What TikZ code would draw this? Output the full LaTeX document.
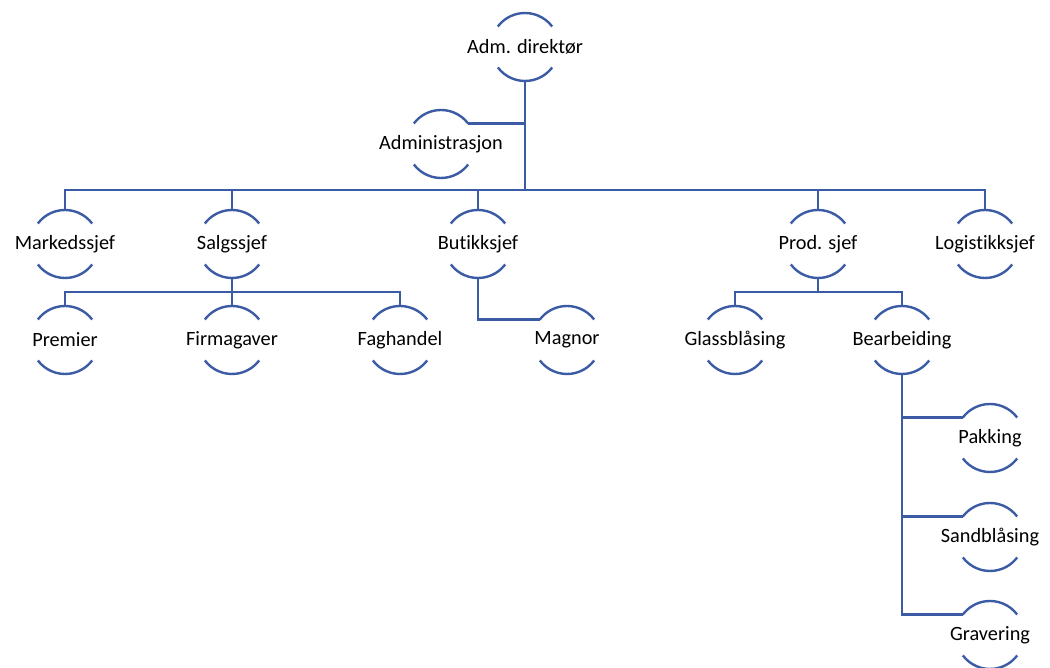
\documentclass[tikz,border=0pt]{standalone}
\usepackage{fontspec}
\setmainfont{Carlito}[Ligatures=NoCommon]
\usetikzlibrary{calc}
\definecolor{orgblue}{RGB}{59,91,165}

\begin{document}
\begin{tikzpicture}[x=1pt,y=1pt,
  unit/.style={minimum height=68pt,minimum width=68pt,inner sep=0pt,
               outer sep=0pt,font=\fontsize{20.3}{22}\selectfont,text=black},
  arcs/.style={line width=2.4pt,color=orgblue},
  link/.style={line width=2.6pt,color=orgblue}]
\useasboundingbox (0,0) rectangle (1050,668);
% Top
\node[unit](adm) at (525,621) {Adm. direktør};
\node[unit](admin) at (441,524) {Administrasjon};
% Level 1
\node[unit](mark) at (65,424)  {Markedssjef};
\node[unit](salg) at (232,424) {Salgssjef};
\node[unit](but)  at (478,424) {Butikksjef};
\node[unit](prod) at (818,424) {Prod. sjef};
\node[unit](log)  at (985,424) {Logistikksjef};
% Level 2
\node[unit](prem) at (65,328)  {Premier};
\node[unit](firm) at (232,328) {Firmagaver};
\node[unit](fag)  at (400,328) {Faghandel};
\node[unit](mag)  at (567,328) {Magnor};
\node[unit](glas) at (735,328) {Glassblåsing};
\node[unit](bear) at (902,328) {Bearbeiding};
% Under Bearbeiding
\node[unit](pak)  at (990,230) {Pakking};
\node[unit](sand) at (990,131) {Sandblåsing};
\node[unit](grav) at (990,33)  {Gravering};
% Arcs round each unit
\foreach \n in {adm,admin,mark,salg,but,prod,log,prem,firm,fag,mag,glas,bear,pak,sand,grav}
  \draw[arcs] (\n.center) ++(37:34pt) arc[start angle=37,end angle=143,radius=34pt]
              (\n.center) ++(217:34pt) arc[start angle=217,end angle=323,radius=34pt];
% Connectors
\coordinate (bus1) at (525,478);
\coordinate (bus2) at (232,376);
\coordinate (bus3) at (818,376);
\draw[link](adm.south)--(bus1);
\draw[link]($(admin.center)+(37:34pt)$)-|(adm.south);
\foreach \n in {mark,salg,but,prod,log} \draw[link](bus1)-|(\n.north);
\draw[link](salg.south)--(bus2);
\foreach \n in {prem,firm,fag} \draw[link](bus2)-|(\n.north);
\draw[link](but.south)|-($(mag.center)+(143:34pt)$);
\draw[link](prod.south)--(bus3);
\foreach \n in {glas,bear} \draw[link](bus3)-|(\n.north);
\foreach \n in {pak,sand,grav} \draw[link](bear.south)|-($(\n.center)+(143:34pt)$);
\end{tikzpicture}
\end{document}
